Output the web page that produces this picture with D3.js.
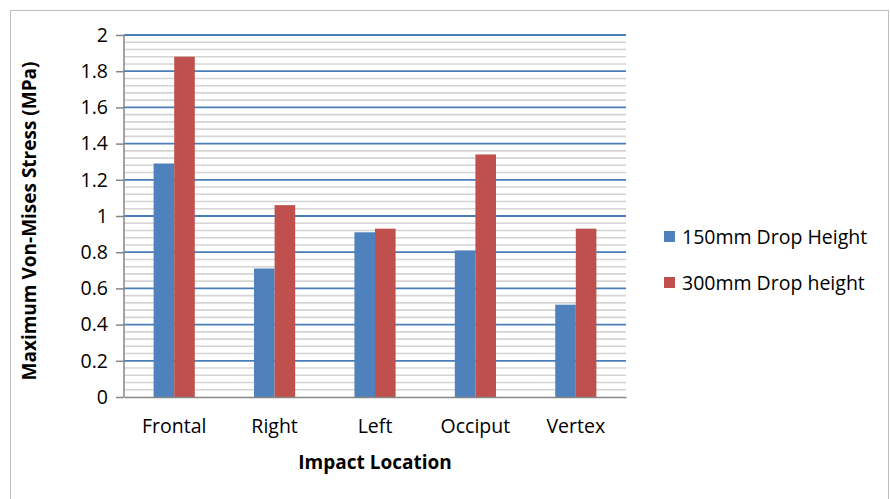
<!DOCTYPE html>
<html>
<head>
<meta charset="utf-8">
<script src="https://cdn.jsdelivr.net/npm/d3@7"></script>
<style>
  html, body { margin: 0; padding: 0; background: #fff; }
  svg { display: block; font-family: "Open Sans", "Noto Sans", sans-serif; }
</style>
</head>
<body>
<svg id="chart" width="890" height="499"></svg>
<script>
// Impact locations and peak stresses (MPa) for the two drop heights
const categories = ["Frontal", "Right", "Left", "Occiput", "Vertex"];
const series150 = [1.29, 0.71, 0.91, 0.81, 0.51];
const series300 = [1.88, 1.06, 0.93, 1.34, 0.93];
const seriesNames = ["150mm Drop Height", "300mm Drop height"];
const seriesColors = ["#4f81bd", "#c0504d"];
const yTicks = [0, 0.2, 0.4, 0.6, 0.8, 1, 1.2, 1.4, 1.6, 1.8, 2];
const yMinorTicks = d3.range(0, 2.0001, 0.04);

const svg = d3.select("#chart");

// outer frame
svg.append("rect")
  .attr("x", 10.5).attr("y", 10.5)
  .attr("width", 878).attr("height", 500)
  .attr("fill", "none").attr("stroke", "#bfbfbf").attr("stroke-width", 1);

const plot = { left: 124, right: 626, top: 35, bottom: 397 };

const y = d3.scaleLinear().domain([0, 2]).range([plot.bottom, plot.top]);
const x0 = d3.scaleBand().domain(categories)
  .range([plot.left, plot.right]).paddingInner(0.59).paddingOuter(0.295);
const x1 = d3.scaleBand().domain([0, 1]).range([0, x0.bandwidth()]);

// minor gridlines
svg.append("g").selectAll("line")
  .data(yMinorTicks.filter(v => Math.abs(v / 0.2 - Math.round(v / 0.2)) > 1e-6))
  .join("line")
  .attr("x1", plot.left).attr("x2", plot.right)
  .attr("y1", d => y(d)).attr("y2", d => y(d))
  .attr("stroke", "#d4d4d4").attr("stroke-width", 1.6);

// major gridlines
svg.append("g").selectAll("line")
  .data(yTicks.filter(v => v > 0))
  .join("line")
  .attr("x1", plot.left).attr("x2", plot.right)
  .attr("y1", d => y(d)).attr("y2", d => y(d))
  .attr("stroke", "#4a7ebb").attr("stroke-width", 1.8);

// bars
const groups = svg.append("g").selectAll("g")
  .data(categories.map((c, i) => ({ c, v: [series150[i], series300[i]] })))
  .join("g")
  .attr("transform", d => `translate(${x0(d.c)},0)`);

groups.selectAll("rect")
  .data(d => d.v.map((v, k) => ({ v, k })))
  .join("rect")
  .attr("x", d => x1(d.k))
  .attr("width", x1.bandwidth())
  .attr("y", d => y(d.v))
  .attr("height", d => y(0) - y(d.v))
  .attr("fill", d => seriesColors[d.k]);

// y axis
const yAxis = svg.append("g")
  .attr("transform", `translate(${plot.left},0)`)
  .call(d3.axisLeft(y).tickValues(yTicks).tickSize(8).tickPadding(8)
    .tickFormat(d => d3.format("~g")(d)));
yAxis.select(".domain").attr("stroke", "#868686").attr("stroke-width", 1.5)
  .attr("d", `M0,${plot.top}V${plot.bottom}`);
yAxis.selectAll(".tick line").attr("stroke", "#868686").attr("stroke-width", 1.5);
yAxis.selectAll(".tick text").attr("font-size", 19.5).attr("fill", "#000")
  .attr("font-family", "\"Open Sans\", sans-serif");

// x axis
const xAxis = svg.append("g")
  .attr("transform", `translate(0,${plot.bottom})`)
  .call(d3.axisBottom(x0).tickSize(0).tickPadding(22));
xAxis.select(".domain").attr("stroke", "#868686").attr("stroke-width", 1.5);
xAxis.selectAll(".tick text").attr("font-size", 19.5).attr("fill", "#000")
  .attr("font-family", "\"Open Sans\", sans-serif");

// axis titles
svg.append("text")
  .attr("x", (plot.left + plot.right) / 2).attr("y", 469)
  .attr("text-anchor", "middle").attr("font-size", 19).attr("font-weight", "bold")
  .text("Impact Location");

svg.append("text")
  .attr("transform", `translate(36,${(plot.top + plot.bottom) / 2 + 5}) rotate(-90)`)
  .attr("text-anchor", "middle").attr("font-size", 19).attr("font-weight", "bold")
  .text("Maximum Von-Mises Stress (MPa)");

// legend
const legend = svg.append("g").selectAll("g")
  .data(seriesNames)
  .join("g")
  .attr("transform", (d, i) => `translate(664,${231 + i * 46})`);
legend.append("rect").attr("width", 11).attr("height", 11)
  .attr("fill", (d, i) => seriesColors[i]);
legend.append("text").attr("x", 18).attr("y", 12.5)
  .attr("font-size", 19.5).text(d => d);
</script>
</body>
</html>
